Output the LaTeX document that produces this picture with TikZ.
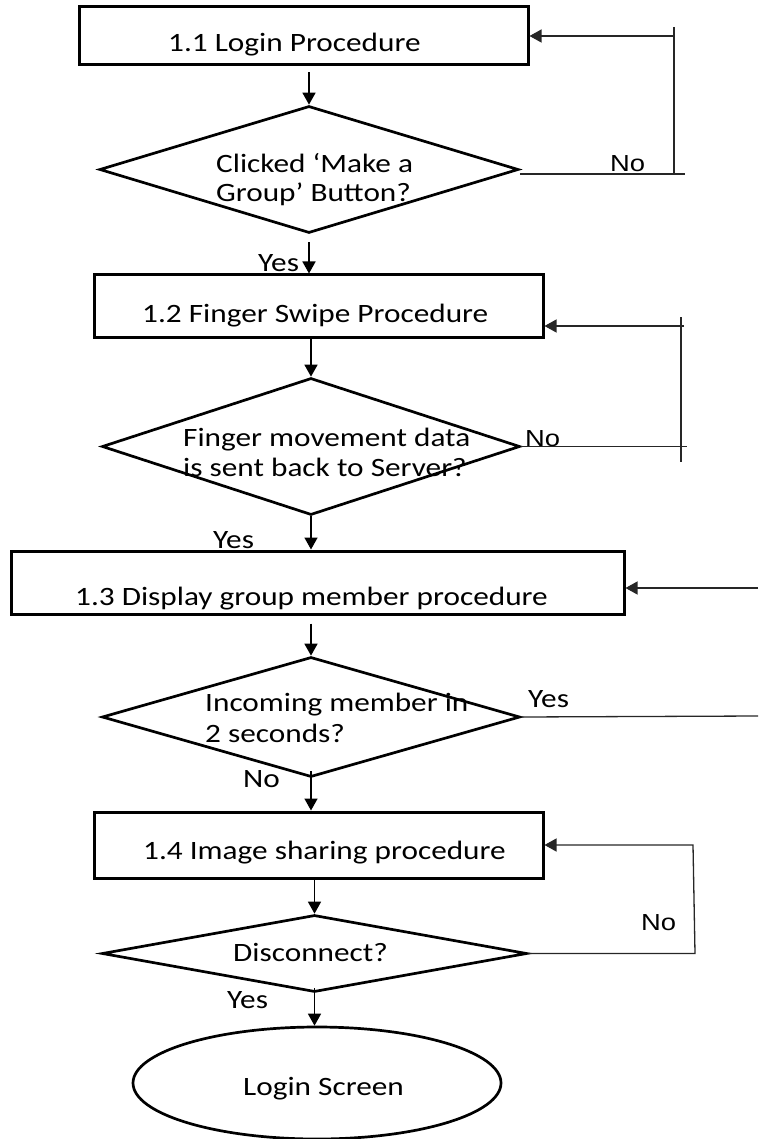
\documentclass[tikz,border=0pt]{standalone}
\usepackage{fontspec}
\setmainfont{Carlito}[FakeStretch=1.18]
\newfontfamily\labelfont{Liberation Sans}[FakeStretch=1.18]
\usetikzlibrary{shapes.geometric,arrows.meta}
\begin{document}
\begin{tikzpicture}[x=1pt,y=-1pt,
  stepbox/.style={draw, line width=3pt, rectangle, inner sep=0pt},
  decision/.style={draw, line width=2.7pt, diamond, inner sep=0pt},
  terminal/.style={draw, line width=2.7pt, ellipse, inner sep=0pt},
  txt/.style={inner sep=0pt, anchor=base west, font=\fontsize{26.5}{31}\selectfont},
  lbl/.style={inner sep=0pt, anchor=base west, font=\labelfont\fontsize{23.2}{28}\selectfont},
  flow/.style={line width=1.6pt, -{Triangle[length=12pt,width=13pt]}},
  loopline/.style={line width=1.3pt, draw=black!85},
  back/.style={loopline, -{Triangle[length=12pt,width=13pt]}}
]
\useasboundingbox (0,0) rectangle (758,1139);

% process boxes, decisions and the terminal
\node[stepbox, minimum width=449pt, minimum height=58pt] (b11) at (303.5,36) {};
\node[decision, minimum width=419pt, minimum height=127pt] (d1) at (309,169.5) {};
\node[stepbox, minimum width=449pt, minimum height=62pt] (b12) at (318.5,306) {};
\node[decision, minimum width=418pt, minimum height=137pt] (d2) at (311,446.5) {};
\node[stepbox, minimum width=613pt, minimum height=63pt] (b13) at (317.5,582.5) {};
\node[decision, minimum width=418pt, minimum height=120pt] (d3) at (311,717) {};
\node[stepbox, minimum width=449pt, minimum height=66pt] (b14) at (318.5,845) {};
\node[decision, minimum width=425pt, minimum height=77pt] (d4) at (314.5,953.5) {};
\node[terminal, minimum width=368pt, minimum height=112pt] (end) at (317,1083) {};

% texts inside the shapes
\node[txt] (t11) at (168,52) {1.1 Login Procedure};
\node[txt] (t12) at (142,322) {1.2 Finger Swipe Procedure};
\node[txt] (t13) at (75,605) {1.3 Display group member procedure};
\node[txt] (t14) at (143,859) {1.4 Image sharing procedure};
\node[txt] (q1a) at (216,173) {Clicked ‘Make a};
\node[txt] (q1b) at (216,202) {Group’ Button?};
\node[txt] (q2a) at (183,446) {Finger movement data};
\node[txt] (q2b) at (183,476) {is sent back to Server?};
\node[txt] (q3a) at (205,711) {Incoming member in};
\node[txt] (q3b) at (205,742) {2 seconds?};
\node[txt] (q4) at (233,961) {Disconnect?};
\node[txt] (tend) at (243,1095) {Login Screen};

% branch labels
\node[txt] (y1) at (258,272) {Yes};
\node[txt] (y2) at (213,548) {Yes};
\node[txt] (y3) at (528,707) {Yes};
\node[txt] (y4) at (227,1008) {Yes};
\node[txt] (n3) at (243,787) {No};
\node[lbl] (n1) at (610,172) {No};
\node[lbl] (n2) at (525,446) {No};
\node[lbl] (n4) at (641,930) {No};

% main downward flow
\draw[flow, shorten <=6pt] (d1.north |- b11.south) -- (d1.north);
\draw[flow, shorten <=8pt] (d1.south) -- (d1.south |- b12.north);
\draw[flow] (d2.north |- b12.south) -- (d2.north);
\draw[flow] (d2.south) -- (d2.south |- b13.north);
\draw[flow, shorten <=8pt] (d3.north |- b13.south) -- (d3.north);
\draw[flow, shorten <=-7pt] (d3.south) -- (d3.south |- b14.north);
\draw[flow] (d4.north |- b14.south) -- (d4.north);
\draw[flow, shorten <=-5pt] (d4.south) -- (d4.south |- end.north);

% loop back to the login procedure
\coordinate (r1top) at (674,27);
\coordinate (r1bot) at (685,174);
\draw[loopline] (d1.east |- r1bot) -- (r1bot);
\draw[loopline] (r1top) -- (r1top |- r1bot);
\draw[back] (b11.east -| r1top) -- (b11.east);

% loop back to the finger swipe procedure
\coordinate (r2top) at (681,317);
\coordinate (r2end) at (681,462);
\coordinate (r2bot) at (687,448);
\coordinate (r2in) at (684,326);
\draw[loopline] (d2.east) -- (d2.east -| r2bot);
\draw[loopline] (r2top) -- (r2end);
\draw[back] (r2in) -- (r2in -| b12.east);

% incoming member returns to the display procedure
\coordinate (r3out) at (758,716);
\coordinate (r3in) at (758,588);
\draw[loopline] (d3.east) -- (r3out);
\draw[back] (r3in) -- (r3in -| b13.east);

% loop back to image sharing
\coordinate (r4bot) at (695,949);
\coordinate (r4top) at (693,845);
\draw[back] (d4.east) -- (d4.east -| r4bot) -- (r4top) -- (r4top -| b14.east);
\end{tikzpicture}
\end{document}
